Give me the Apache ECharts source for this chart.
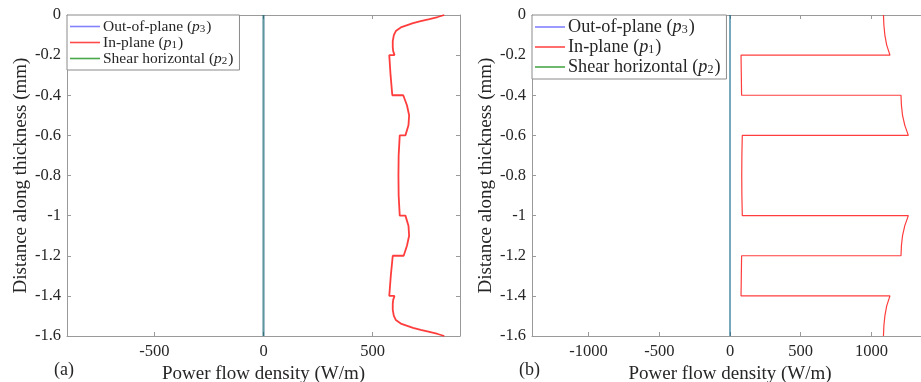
<!DOCTYPE html>
<html>
<head>
<meta charset="utf-8">
<script src="https://cdn.jsdelivr.net/npm/echarts@6/dist/echarts.min.js"></script>
<style>
html,body{margin:0;padding:0;background:#fff;}
#chart{width:921px;height:382px;}
</style>
</head>
<body>
<div id="chart"></div>
<script>
// ---- Data ----
const seriesNames = ['Out-of-plane (p3)', 'In-plane (p1)', 'Shear horizontal (p2)'];
const yTicks = [0, -0.2, -0.4, -0.6, -0.8, -1, -1.2, -1.4, -1.6];
const xTicksA = [-500, 0, 500];
const xTicksB = [-1000, -500, 0, 500, 1000];

// plot (a)
const zeroDepth = [0, -1.6];
const outPlaneA = [0, 0];
const shearA = [0, 0];
const inPlaneDepthA = [0, -0.01, -0.02, -0.03, -0.04, -0.06, -0.08, -0.1, -0.13, -0.16, -0.18, -0.2,
  -0.2, -0.3, -0.4,
  -0.4, -0.45, -0.5, -0.55, -0.6,
  -0.6, -0.7, -0.8, -0.9, -1.0,
  -1.0, -1.05, -1.1, -1.15, -1.2,
  -1.2, -1.3, -1.4,
  -1.4, -1.42, -1.44, -1.47, -1.5, -1.52, -1.54, -1.56, -1.57, -1.58, -1.59, -1.6];
const inPlaneA = [828, 798, 760, 720, 685, 632, 606, 597, 592, 592, 594, 600,
  576, 582, 590,
  640, 657, 667, 664, 650,
  624, 619, 618, 619, 624,
  650, 664, 667, 657, 642,
  592, 583, 576,
  600, 594, 592, 592, 597, 606, 632, 685, 720, 760, 798, 828];

// plot (b)
const outPlaneB = [0, 0];
const shearB = [0, 0];
const inPlaneDepthB = [0, -0.05, -0.1, -0.15, -0.2,
  -0.2, -0.3, -0.4,
  -0.4, -0.45, -0.5, -0.55, -0.6,
  -0.6, -0.7, -0.8, -0.9, -1.0,
  -1.0, -1.05, -1.1, -1.15, -1.2,
  -1.2, -1.3, -1.4,
  -1.4, -1.45, -1.5, -1.55, -1.6];
const inPlaneB = [1085, 1088, 1095, 1108, 1131,
  78, 80, 82,
  1209, 1212, 1220, 1236, 1261,
  87, 84, 83, 84, 87,
  1261, 1236, 1220, 1212, 1209,
  82, 80, 78,
  1131, 1108, 1095, 1088, 1085];

// ---- Build ----
const pairs = (vals, depths) => vals.map((v, i) => [v, depths[i]]);
const FONT = '"Liberation Serif", "DejaVu Serif", serif';
const BLUE_A = 'rgba(0,0,255,0.4)';
const GREEN_A = 'rgba(0,150,0,0.4)';
const BLUE_B = 'rgba(0,40,255,0.3)';
const GREEN_B = 'rgba(0,150,0,0.4)';
const RED = 'rgba(255,40,40,0.9)';
const LEG_COLORS = ['#8282ff', '#ff4a4a', '#4aa84a'];
const AXC = '#9a9a9a';
const TXT = '#262626';
const TICK_FS = 16.5, TITLE_FS = 19;

function xAxes(gi, min, max, ticks) {
  return [{
    type: 'value', gridIndex: gi, min: min, max: max, position: 'bottom',
    axisLine: {show: true, onZero: false, lineStyle: {color: AXC, width: 1}},
    axisTick: {show: true, inside: true, length: 4, customValues: ticks, lineStyle: {color: AXC}},
    axisLabel: {show: true, customValues: ticks, fontFamily: FONT, fontSize: TICK_FS, color: TXT, margin: 7,
      formatter: v => String(v)},
    splitLine: {show: false},
    name: 'Power flow density (W/m)', nameLocation: 'middle', nameGap: 25,
    nameTextStyle: {fontFamily: FONT, fontSize: TITLE_FS, color: TXT}
  }, {
    type: 'value', gridIndex: gi, min: min, max: max, position: 'top',
    axisLine: {show: true, onZero: false, lineStyle: {color: AXC, width: 1}},
    axisTick: {show: true, inside: true, length: 4, customValues: ticks, lineStyle: {color: AXC}},
    axisLabel: {show: false}, splitLine: {show: false}
  }];
}
function yAxes(gi) {
  return [{
    type: 'value', gridIndex: gi, min: -1.6, max: 0, interval: 0.2, position: 'left',
    axisLine: {show: true, onZero: false, lineStyle: {color: AXC, width: 1}},
    axisTick: {show: true, inside: true, length: 4, lineStyle: {color: AXC}},
    axisLabel: {show: true, fontFamily: FONT, fontSize: TICK_FS, color: TXT, margin: 6,
      formatter: v => String(Math.round(v * 10) / 10)},
    splitLine: {show: false},
    name: 'Distance along thickness (mm)', nameLocation: 'middle', nameRotate: 90, nameGap: 36,
    nameTextStyle: {fontFamily: FONT, fontSize: TITLE_FS, color: TXT}
  }, {
    type: 'value', gridIndex: gi, min: -1.6, max: 0, interval: 0.2, position: 'right',
    axisLine: {show: true, onZero: false, lineStyle: {color: AXC, width: 1}},
    axisTick: {show: true, inside: true, length: 4, lineStyle: {color: AXC}},
    axisLabel: {show: false}, splitLine: {show: false}
  }];
}
function legendCfg(left, fs, lh, gap) {
  return {
    left: left, top: 15, orient: 'vertical', icon: 'rect', itemWidth: 30, itemHeight: 1.6,
    itemGap: gap, padding: [3, 6, 3, 3], borderColor: '#8a8a8a', borderWidth: 1, backgroundColor: '#fff',
    data: seriesNames.map((n, i) => ({name: n, itemStyle: {color: LEG_COLORS[i]}})),
    formatter: function (name) {
      const m = name.match(/^(.*)\((p)(\d)\)$/);
      return '{n|' + m[1] + '(}{i|p}{s|' + m[3] + '}{n|)}';
    },
    textStyle: {
      fontFamily: FONT, fontSize: fs, color: TXT, padding: [0, 0, 0, -2], lineHeight: lh,
      rich: {
        n: {fontFamily: FONT, fontSize: fs, color: TXT, lineHeight: lh},
        i: {fontFamily: FONT, fontSize: fs, fontStyle: 'italic', color: TXT, lineHeight: lh},
        s: {fontFamily: FONT, fontSize: Math.round(fs * 0.68), color: TXT, lineHeight: lh - 6, padding: [6, 1, 0, 0]}
      }
    }
  };
}

const option = {
  animation: false,
  backgroundColor: '#fff',
  grid: [
    {left: 67, top: 15, width: 393, height: 321, outerBoundsMode: 'none', containLabel: false},
    {left: 532, top: 15, width: 396, height: 321, outerBoundsMode: 'none', containLabel: false}
  ],
  xAxis: [...xAxes(0, -900, 900, xTicksA), ...xAxes(1, -1400, 1400, xTicksB)],
  yAxis: [...yAxes(0), ...yAxes(1)],
  legend: [legendCfg(67, 15.5, 15, -1), legendCfg(532, 18.2, 17, 2)],
  series: [
    {name: seriesNames[0], type: 'line', xAxisIndex: 0, yAxisIndex: 0, showSymbol: false, symbol: 'none', z: 2,
      color: BLUE_A, lineStyle: {color: BLUE_A, width: 2}, data: pairs(outPlaneA, zeroDepth)},
    {name: seriesNames[1], type: 'line', xAxisIndex: 0, yAxisIndex: 0, showSymbol: false, symbol: 'none', z: 3,
      color: RED, lineStyle: {color: RED, width: 1.8}, data: pairs(inPlaneA, inPlaneDepthA)},
    {name: seriesNames[2], type: 'line', xAxisIndex: 0, yAxisIndex: 0, showSymbol: false, symbol: 'none', z: 4,
      color: GREEN_A, lineStyle: {color: GREEN_A, width: 2}, data: pairs(shearA, zeroDepth)},
    {name: seriesNames[0], type: 'line', xAxisIndex: 2, yAxisIndex: 2, showSymbol: false, symbol: 'none', z: 4,
      color: BLUE_B, lineStyle: {color: BLUE_B, width: 1.8}, data: pairs(outPlaneB, zeroDepth)},
    {name: seriesNames[1], type: 'line', xAxisIndex: 2, yAxisIndex: 2, showSymbol: false, symbol: 'none', z: 3,
      color: RED, lineStyle: {color: RED, width: 1.2}, data: pairs(inPlaneB, inPlaneDepthB)},
    {name: seriesNames[2], type: 'line', xAxisIndex: 2, yAxisIndex: 2, showSymbol: false, symbol: 'none', z: 2,
      color: GREEN_B, lineStyle: {color: GREEN_B, width: 1.8}, data: pairs(shearB, zeroDepth)}
  ],
  graphic: [
    {type: 'text', left: 54, top: 361, style: {text: '(a)', fontFamily: FONT, fontSize: 18, fill: TXT}},
    {type: 'text', left: 519, top: 361, style: {text: '(b)', fontFamily: FONT, fontSize: 18, fill: TXT}}
  ]
};
const chart = echarts.init(document.getElementById('chart'), null, {renderer: 'canvas'});
chart.setOption(option);
</script>
</body>
</html>
